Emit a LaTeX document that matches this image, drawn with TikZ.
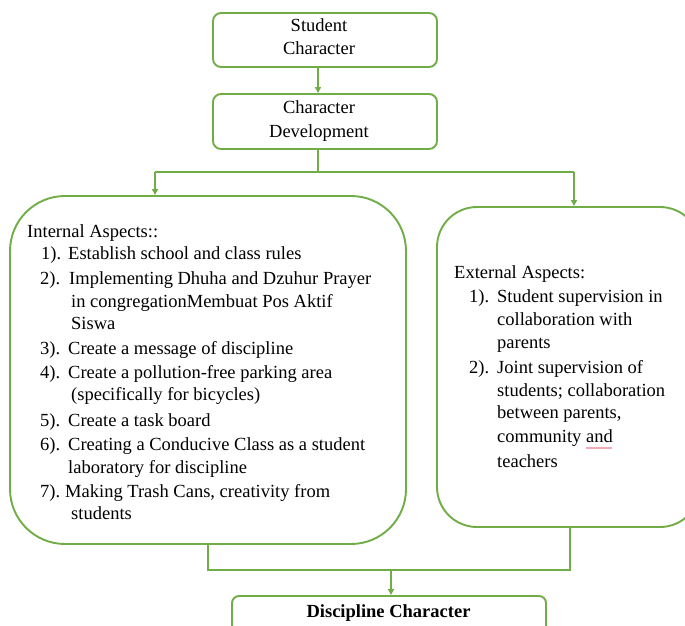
\documentclass[tikz,border=0pt]{standalone}
\usepackage{fontspec}
\setmainfont{Liberation Serif}
\usetikzlibrary{arrows.meta}
\definecolor{grn}{RGB}{112,173,71}
\definecolor{spell}{RGB}{240,170,185}
\begin{document}
\begin{tikzpicture}[x=1pt,y=-1pt,
  box/.style={draw=grn,line width=1.9pt,fill=white,inner sep=0pt},
  conn/.style={draw=grn,line width=1.6pt},
  arr/.style={conn,-{Triangle[length=6pt,width=6pt]}},
  txt/.style={anchor=base west,inner sep=0pt,font=\fontsize{18.5}{23}\selectfont},
  ctr/.style={anchor=base,inner sep=0pt,font=\fontsize{18.5}{23}\selectfont}]
\useasboundingbox (0,0) rectangle (685,626);

% boxes
\node[box,rounded corners=8pt,minimum width=224pt,minimum height=54pt] (sc) at (325,40) {};
\node[box,rounded corners=8pt,minimum width=224pt,minimum height=55pt] (cd) at (325,121.5) {};
\node[box,rounded corners=55pt,minimum width=396pt,minimum height=348pt] (int) at (208,370) {};
\node[box,rounded corners=40pt,minimum width=263pt,minimum height=320pt] (ext) at (568.5,367) {};
\node[box,rounded corners=7pt,minimum width=314pt,minimum height=44pt] (dc) at (389,618) {};

% connectors
\draw[arr] ([xshift=-7pt]sc.south) -- ([xshift=-7pt]cd.north);
\coordinate (sp) at (318,172);
\coordinate (hl) at (155,172);
\coordinate (hr) at (574,172);
\draw[conn] ([xshift=-7pt]cd.south) -- (sp);
\draw[conn] (hl) -- (hr);
\draw[arr] (hl) -- (hl |- int.north);
\draw[arr] (hr) -- (hr |- ext.north);
\coordinate (bl) at (208,570);
\coordinate (br) at (570,570);
\coordinate (bm) at (391,570);
\draw[conn] (int.south) -- (bl) -- (br) -- (br |- ext.south);
\draw[arr] (bm) -- (bm |- dc.north);

% top texts
\node[ctr] (t1) at (319,32) {Student};
\node[ctr] (t2) at (319,55) {Character};
\node[ctr] (t3) at (319,113) {Character};
\node[ctr] (t4) at (319,137) {Development};
\node[ctr,font=\fontsize{18.5}{23}\selectfont\bfseries] (t5) at (388.5,617) {Discipline Character};

% internal aspects
\node[txt] (i0) at (27,237) {Internal Aspects::};
\node[txt] (i1n) at (41,259) {1).};
\node[txt] (i1) at (68,259) {Establish school and class rules};
\node[txt] (i2n) at (40,284) {2).};
\node[txt] (i2) at (69,284) {Implementing Dhuha and Dzuhur Prayer};
\node[txt] (i2b) at (71,307) {in congregationMembuat Pos Aktif};
\node[txt] (i2c) at (71,329) {Siswa};
\node[txt] (i3n) at (40,354) {3).};
\node[txt] (i3) at (68,354) {Create a message of discipline};
\node[txt] (i4n) at (40,378) {4).};
\node[txt] (i4) at (68,378) {Create a pollution-free parking area};
\node[txt] (i4b) at (71,400) {(specifically for bicycles)};
\node[txt] (i5n) at (40,426) {5).};
\node[txt] (i5) at (68,426) {Create a task board};
\node[txt] (i6n) at (40,450) {6).};
\node[txt] (i6) at (68,450) {Creating a Conducive Class as a student};
\node[txt] (i6b) at (68,473) {laboratory for discipline};
\node[txt] (i7n) at (40,497) {7).};
\node[txt] (i7) at (65,497) {Making Trash Cans, creativity from};
\node[txt] (i7b) at (71,519) {students};

% external aspects
\node[txt] (e0) at (454,278) {External Aspects:};
\node[txt] (e1n) at (469,302) {1).};
\node[txt] (e1) at (497,302) {Student supervision in};
\node[txt] (e1b) at (497,325) {collaboration with};
\node[txt] (e1c) at (497,348) {parents};
\node[txt] (e2n) at (469,373) {2).};
\node[txt] (e2) at (497,373) {Joint supervision of};
\node[txt] (e2b) at (497,396) {students; collaboration};
\node[txt] (e2c) at (497,418) {between parents,};
\node[txt] (e2d) at (497,442) {community and};
\node[txt] (e2e) at (497,467) {teachers};
\draw[spell,line width=1.5pt] (586,448) -- (612,448);
\end{tikzpicture}
\end{document}
